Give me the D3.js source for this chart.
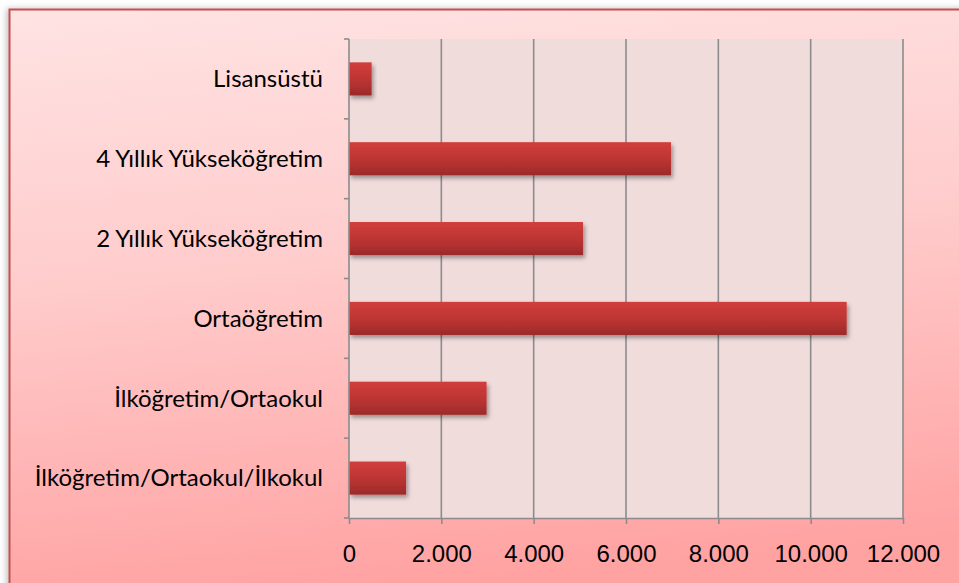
<!DOCTYPE html>
<html>
<head>
<meta charset="utf-8">
<script src="https://cdn.jsdelivr.net/npm/d3@7"></script>
<style>
  body { margin: 0; background: #fff; }
  svg { display: block; font-family: Lato, "Open Sans", sans-serif; }
  .axis text { fill: #000; font-size: 24px; }
  .axis path, .axis line { stroke: #8c8c8c; stroke-width: 1.6; }
</style>
</head>
<body>
<script>
// data
const categories = ["İlköğretim/Ortaokul/İlkokul", "İlköğretim/Ortaokul", "Ortaöğretim",
                    "2 Yıllık Yükseköğretim", "4 Yıllık Yükseköğretim", "Lisansüstü"];
const values = [1235, 2980, 10780, 5070, 6975, 490];
const xTicks = [0, 2000, 4000, 6000, 8000, 10000, 12000];
const xTickLabels = ["0", "2.000", "4.000", "6.000", "8.000", "10.000", "12.000"];

const W = 959, H = 583;
const margin = {top: 39, right: 56, bottom: 65, left: 349};
const w = W - margin.left - margin.right;
const h = H - margin.top - margin.bottom;

const root = d3.select("body").append("svg")
    .attr("width", W)
    .attr("height", H);

const defs = root.append("defs");

// outer background gradient
const bg = defs.append("linearGradient")
    .attr("id", "bg").attr("x1", "0%").attr("x2", "15%").attr("y1", "0%").attr("y2", "100%");
bg.append("stop").attr("offset", "0%").attr("stop-color", "#ffe3e3");
bg.append("stop").attr("offset", "45%").attr("stop-color", "#ffcccc");
bg.append("stop").attr("offset", "100%").attr("stop-color", "#ffa2a2");

// bar gradient
const barGrad = defs.append("linearGradient")
    .attr("id", "barGrad").attr("x1", "0%").attr("x2", "0%").attr("y1", "0%").attr("y2", "100%");
barGrad.append("stop").attr("offset", "0%").attr("stop-color", "#d23e3c");
barGrad.append("stop").attr("offset", "55%").attr("stop-color", "#bb3433");
barGrad.append("stop").attr("offset", "100%").attr("stop-color", "#9c2a2a");

// bar shadow
const shadow = defs.append("filter").attr("id", "shadow")
    .attr("x", "-10%").attr("y", "-20%").attr("width", "130%").attr("height", "160%");
shadow.append("feDropShadow")
    .attr("dx", 2).attr("dy", 3).attr("stdDeviation", 2)
    .attr("flood-color", "#000").attr("flood-opacity", 0.35);

// frame shadow
const frameShadow = defs.append("filter").attr("id", "frameShadow")
    .attr("x", "-5%").attr("y", "-5%").attr("width", "110%").attr("height", "110%");
frameShadow.append("feDropShadow")
    .attr("dx", -2).attr("dy", 0).attr("stdDeviation", 3)
    .attr("flood-color", "#000").attr("flood-opacity", 0.25);

// chart frame
root.append("rect")
    .attr("x", 9.5).attr("y", 9.5)
    .attr("width", 970).attr("height", 600)
    .attr("fill", "url(#bg)")
    .attr("stroke", "#c4504e")
    .attr("stroke-width", 2)
    .attr("filter", "url(#frameShadow)");

const svg = root.append("g")
    .attr("transform", "translate(" + margin.left + "," + margin.top + ")");

// plot area
svg.append("rect")
    .attr("width", w).attr("height", h)
    .attr("fill", "#f1dcdc");

// scales
const x = d3.scaleLinear()
    .domain([0, 12000])
    .range([0, w]);

const y = d3.scaleBand()
    .domain(categories.slice().reverse())
    .range([0, h]);

const barH = y.bandwidth() * 0.415;

// vertical grid lines
svg.append("g")
    .attr("class", "axis grid")
    .selectAll("line")
    .data(xTicks.slice(1))
    .enter()
    .append("line")
        .attr("x1", d => x(d)).attr("x2", d => x(d))
        .attr("y1", 0).attr("y2", h);

// bars
svg.append("g")
    .selectAll("rect")
    .data(values)
    .enter()
    .append("rect")
        .attr("x", 0)
        .attr("y", (d, i) => y(categories[i]) + (y.bandwidth() - barH) / 2)
        .attr("width", d => x(d))
        .attr("height", barH)
        .attr("fill", "url(#barGrad)")
        .attr("filter", "url(#shadow)");

// x axis
svg.append("g")
    .attr("class", "axis")
    .attr("transform", "translate(0," + h + ")")
    .call(d3.axisBottom(x)
        .tickValues(xTicks)
        .tickFormat((d, i) => xTickLabels[i])
        .tickSize(6)
        .tickSizeOuter(0)
        .tickPadding(21));

// y axis: ticks at band boundaries
const yAxis = svg.append("g").attr("class", "axis");
yAxis.append("line")
    .attr("x1", 0).attr("x2", 0).attr("y1", 0).attr("y2", h);
yAxis.selectAll(".tk")
    .data(d3.range(categories.length + 1))
    .enter()
    .append("line")
        .attr("class", "tk")
        .attr("x1", -5).attr("x2", 0)
        .attr("y1", i => i * y.step()).attr("y2", i => i * y.step());
yAxis.selectAll("text")
    .data(categories)
    .enter()
    .append("text")
        .attr("x", -26)
        .attr("y", d => y(d) + y.bandwidth() / 2)
        .attr("dy", "0.35em")
        .attr("text-anchor", "end")
        .text(d => d);
</script>
</body>
</html>
